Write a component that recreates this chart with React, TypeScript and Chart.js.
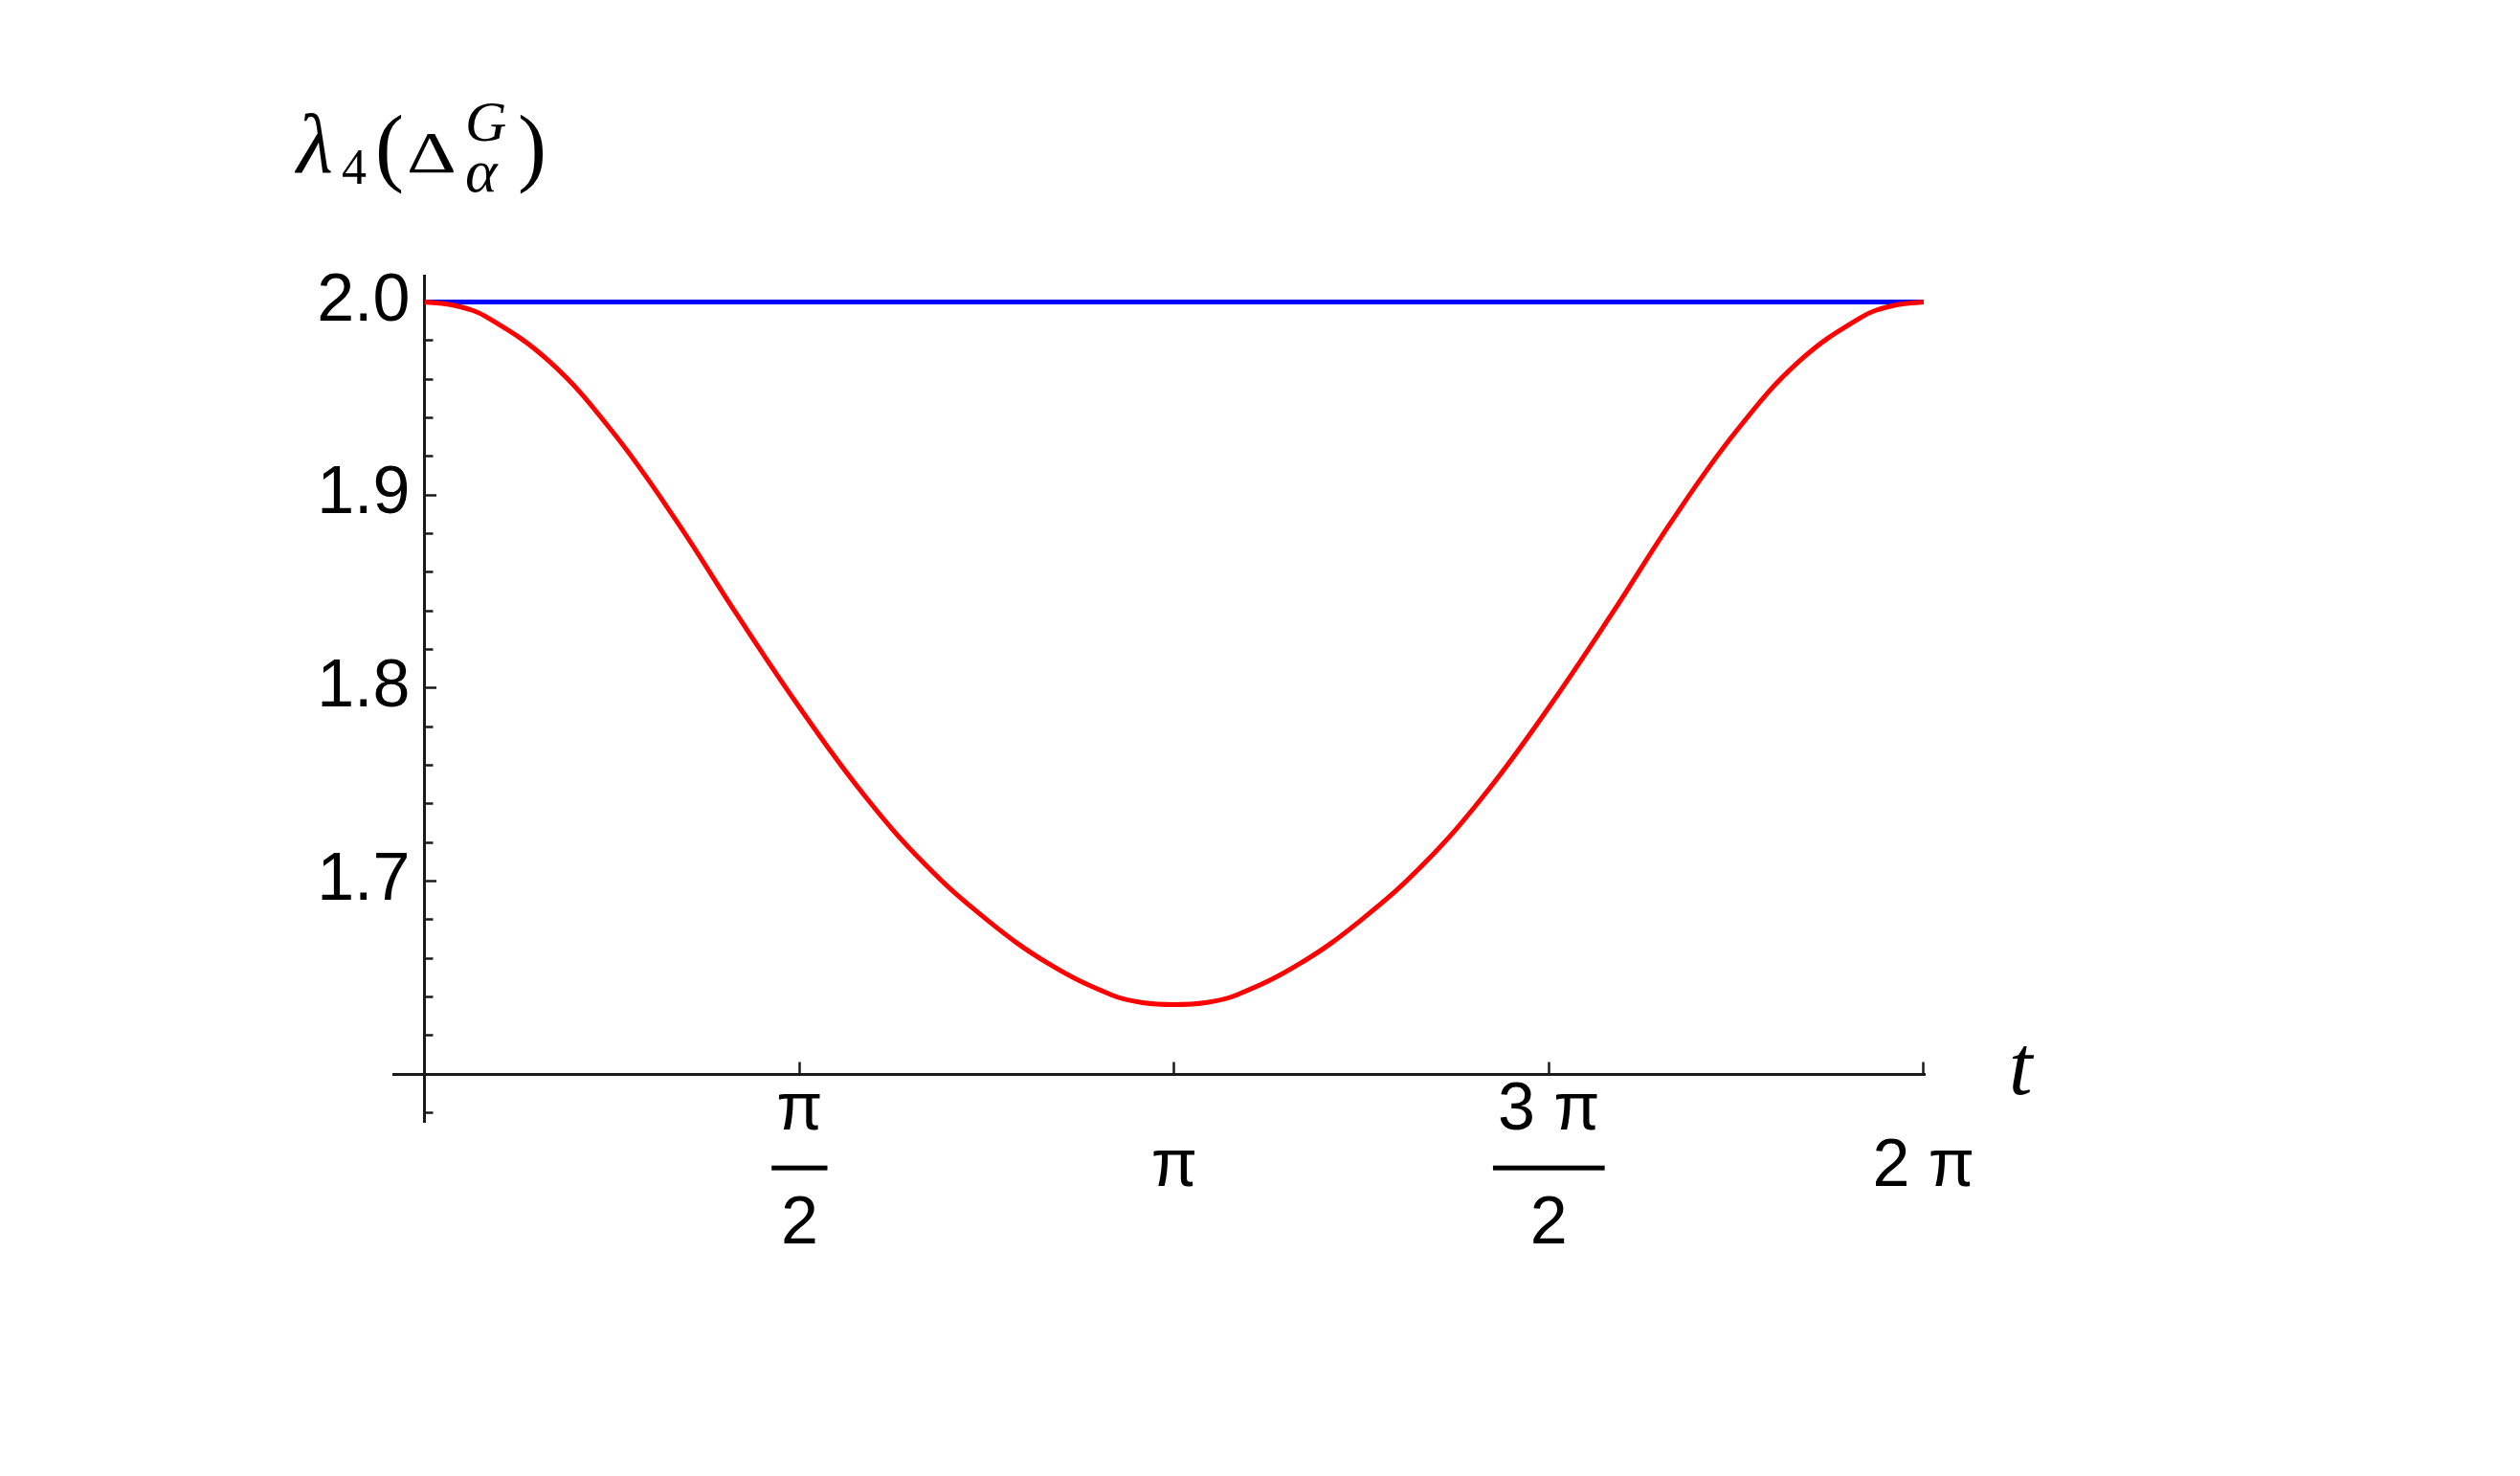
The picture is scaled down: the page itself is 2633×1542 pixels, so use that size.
import { useEffect, useRef } from "react";
import { Chart, registerables } from "chart.js";

Chart.register(...registerables);

const PI = Math.PI;

// sample positions, as multiples of π
const T_OVER_PI = [
  0, 1 / 24, 1 / 12, 2 / 12, 3 / 12, 4 / 12, 5 / 12, 6 / 12, 7 / 12, 8 / 12, 9 / 12, 10 / 12, 11 / 12, 23 / 24, 1,
  25 / 24, 13 / 12, 14 / 12, 15 / 12, 16 / 12, 17 / 12, 18 / 12, 19 / 12, 20 / 12, 21 / 12, 22 / 12, 23 / 12, 47 / 24, 2,
];

// red curve
const RED_VALUES = [
  2.0, 1.998, 1.992, 1.969, 1.933, 1.888, 1.838, 1.790, 1.746, 1.709, 1.680, 1.657, 1.641, 1.637, 1.636,
  1.637, 1.641, 1.657, 1.680, 1.709, 1.746, 1.790, 1.838, 1.888, 1.933, 1.969, 1.992, 1.998, 2.0,
];

// blue line
const BLUE_VALUES = [
  2.0, 2.0, 2.0, 2.0, 2.0, 2.0, 2.0, 2.0, 2.0, 2.0, 2.0, 2.0, 2.0, 2.0, 2.0,
  2.0, 2.0, 2.0, 2.0, 2.0, 2.0, 2.0, 2.0, 2.0, 2.0, 2.0, 2.0, 2.0, 2.0,
];

const X_TICKS_OVER_PI = [0.5, 1, 1.5, 2];
const X_TICK_LABELS: (string | string[])[] = [["π", "", "2"], "π", ["3 π", "", "2"], "2 π"];

const Y_MAJOR_TICKS = [1.7, 1.8, 1.9, 2.0];
const Y_TICK_LABELS = ["1.7", "1.8", "1.9", "2.0"];
const Y_MINOR_TICKS = [
  1.58, 1.62, 1.64, 1.66, 1.68, 1.72, 1.74, 1.76, 1.78, 1.82, 1.84, 1.86, 1.88, 1.92, 1.94, 1.96, 1.98,
];

const X_MIN = -0.132;
const X_MAX = 2 * PI + 0.005;
const Y_MIN = 1.5753;
const Y_MAX = 2.0136;
const AXES_CROSS_X = 0;
const AXES_CROSS_Y = 1.6;
const Y_LABEL_ANCHOR_X = -0.062; // where the y tick labels end, left of the axis

const W = 2633;
const H = 1542;

const AXIS_COLOR = "#1a1a1a";

const mathPlugin = {
  id: "mathLabels",
  afterDraw(chart: any) {
    const ctx = chart.ctx as CanvasRenderingContext2D;
    const xs = chart.scales.x;
    const ys = chart.scales.y;
    ctx.save();
    ctx.fillStyle = "#000";

    // fraction bars for the x tick labels
    const items = xs.getLabelItems();
    items.forEach((item: any) => {
      const label = item.label;
      if (Array.isArray(label) && label.length === 3) {
        const [tx, ty] = item.options.translation;
        const lh = item.font.lineHeight;
        const yBar = ty + item.textOffset + lh;
        ctx.font = item.font.string;
        const w = ctx.measureText(label[0]).width + 10;
        ctx.fillRect(tx - w / 2, yBar - 2.5, w, 5);
      }
    });

    // y-axis title  λ4(Δ_α^G)
    const ax = xs.getPixelForValue(AXES_CROSS_X);
    const top = chart.chartArea.top;
    const serif = '"Liberation Serif", "DejaVu Serif", serif';
    ctx.textAlign = "left";
    ctx.textBaseline = "alphabetic";
    const pieces: [string, string, number, number, number][] = [
      ["λ", `italic 88px ${serif}`, -134, -108, 1],
      ["4", `52px ${serif}`, -87, -96, 1],
      ["(", `90px ${serif}`, -52, -105, 1],
      ["Δ", `62px ${serif}`, -19, -108, 1.3],
      ["G", `italic 60px ${serif}`, 42, -141, 1],
      ["α", `italic 64px ${serif}`, 42, -88, 1],
      [")", `90px ${serif}`, 97, -105, 1],
    ];
    pieces.forEach(([text, font, dx, dy, sx]) => {
      ctx.font = font;
      ctx.save();
      ctx.translate(ax + dx, top + dy);
      ctx.scale(sx, 1);
      ctx.fillText(text, 0, 0);
      ctx.restore();
    });

    // x-axis title t
    const axisY = ys.getPixelForValue(AXES_CROSS_Y);
    ctx.font = `italic 88px ${serif}`;
    ctx.fillText("t", chart.chartArea.right + 88, axisY + 21);
    ctx.restore();
  },
};

export default function App() {
  const canvasRef = useRef<HTMLCanvasElement | null>(null);

  useEffect(() => {
    const canvas = canvasRef.current;
    if (!canvas) return;

    const redData = T_OVER_PI.map((t, i) => ({ x: t * PI, y: RED_VALUES[i] }));
    const blueData = T_OVER_PI.map((t, i) => ({ x: t * PI, y: BLUE_VALUES[i] }));

    const tickFont = { family: '"Liberation Sans", Arial, sans-serif', size: 70, lineHeight: 0.85 };
    const zeroWidth = (s: any) => {
      s.width = 0;
    };

    const chart = new Chart(canvas, {
      type: "line",
      data: {
        datasets: [
          {
            label: "red",
            data: redData,
            borderColor: "#ff0000",
            borderWidth: 5,
            pointRadius: 0,
            fill: false,
            tension: 0.4,
          },
          {
            label: "blue",
            data: blueData,
            borderColor: "#0000ff",
            borderWidth: 5,
            pointRadius: 0,
            fill: false,
          },
        ],
      },
      options: {
        animation: false,
        responsive: false,
        devicePixelRatio: 1,
        layout: {
          padding: { left: 411, right: W - 2011, top: 288, bottom: H - 1172 },
        },
        plugins: {
          legend: { display: false },
          tooltip: { enabled: false },
          title: { display: false },
        },
        scales: {
          x: {
            type: "linear",
            min: X_MIN,
            max: X_MAX,
            position: { y: AXES_CROSS_Y },
            afterFit: (s: any) => {
              s.height = 0;
            },
            afterBuildTicks: (s: any) => {
              s.ticks = X_TICKS_OVER_PI.map((v) => ({ value: v * PI }));
            },
            grid: {
              drawOnChartArea: false,
              drawTicks: true,
              tickLength: -14.5,
              tickWidth: 2.5,
              tickColor: AXIS_COLOR,
            },
            border: { display: true, color: AXIS_COLOR, width: 3 },
            ticks: {
              autoSkip: false,
              maxRotation: 0,
              minRotation: 0,
              padding: 53,
              crossAlign: "center",
              color: "#000",
              font: tickFont,
              callback: (_v: any, i: number) => X_TICK_LABELS[i],
            },
          } as any,
          // tick labels of the vertical axis
          y: {
            type: "linear",
            min: Y_MIN,
            max: Y_MAX,
            position: { x: Y_LABEL_ANCHOR_X },
            afterFit: zeroWidth,
            afterBuildTicks: (s: any) => {
              s.ticks = Y_MAJOR_TICKS.map((v) => ({ value: v }));
            },
            grid: { drawOnChartArea: false, drawTicks: false },
            border: { display: false },
            ticks: {
              padding: 0,
              color: "#000",
              font: tickFont,
              callback: (_v: any, i: number) => Y_TICK_LABELS[i],
            },
          } as any,
          // vertical axis line with major ticks
          yAxisLine: {
            type: "linear",
            axis: "y",
            min: Y_MIN,
            max: Y_MAX,
            position: { x: AXES_CROSS_X },
            afterFit: zeroWidth,
            afterBuildTicks: (s: any) => {
              s.ticks = Y_MAJOR_TICKS.map((v) => ({ value: v }));
            },
            grid: {
              drawOnChartArea: false,
              drawTicks: true,
              tickLength: -14,
              tickWidth: 2.5,
              tickColor: AXIS_COLOR,
            },
            border: { display: true, color: AXIS_COLOR, width: 3 },
            ticks: { display: false },
          } as any,
          // minor ticks
          yMinor: {
            type: "linear",
            axis: "y",
            min: Y_MIN,
            max: Y_MAX,
            position: { x: AXES_CROSS_X },
            afterFit: zeroWidth,
            afterBuildTicks: (s: any) => {
              s.ticks = Y_MINOR_TICKS.map((v) => ({ value: v }));
            },
            grid: {
              drawOnChartArea: false,
              drawTicks: true,
              tickLength: -8.5,
              tickWidth: 2.5,
              tickColor: AXIS_COLOR,
            },
            border: { display: false },
            ticks: { display: false },
          } as any,
        },
      },
      plugins: [mathPlugin],
    });

    return () => {
      chart.destroy();
    };
  }, []);

  return (
    <div style={{ position: "absolute", left: 0, top: 0, width: W, height: H, background: "#fff" }}>
      <canvas ref={canvasRef} width={W} height={H} style={{ display: "block" }} />
    </div>
  );
}
